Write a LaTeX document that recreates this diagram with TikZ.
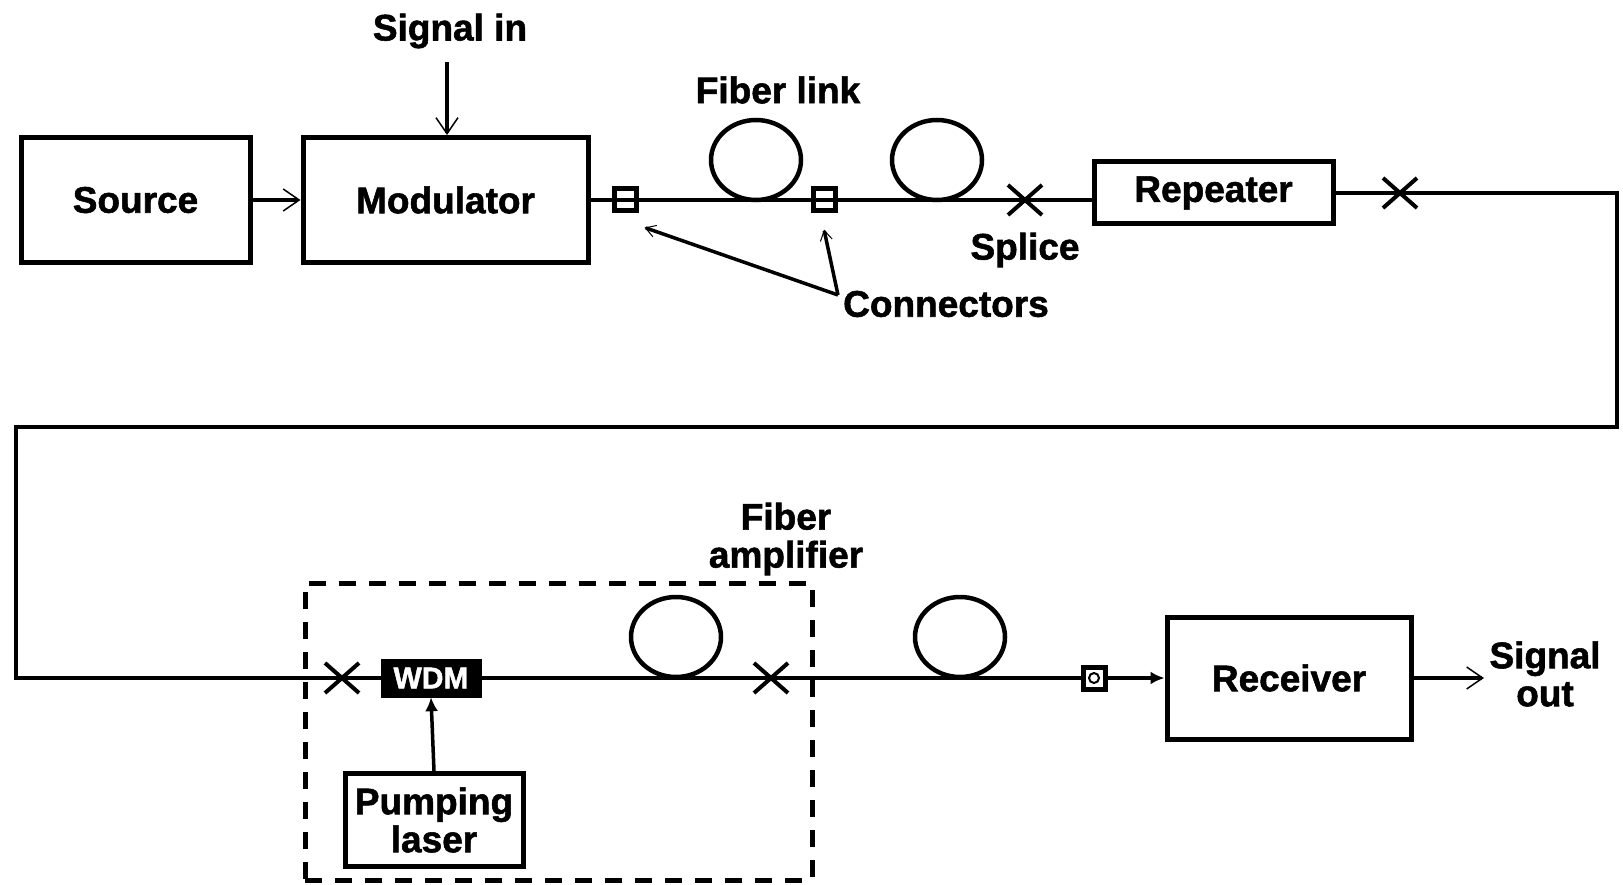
\documentclass[tikz,border=0pt]{standalone}
\usepackage{fontspec}
\setmainfont{Liberation Sans}[BoldFeatures={FakeBold=1.5}]
\usetikzlibrary{arrows.meta,shapes.misc}

\begin{document}
\begin{tikzpicture}[x=1pt,y=-1pt,>=Stealth,
    box/.style={draw,line width=5pt,inner sep=0pt},
    fiber/.style={line width=4.5pt},
    conbox/.style={draw,line width=5pt,minimum size=22pt,inner sep=0pt},
    splice/.style={draw,cross out,line width=4pt,minimum width=30pt,minimum height=26pt,inner sep=0pt},
    txt/.style={font=\fontsize{37}{38}\selectfont\bfseries,align=center,inner sep=0pt},
    openarr/.style={-{Straight Barb[length=16pt,width=22pt,line width=1.5pt]}},
    fillarr/.style={-{Latex[length=14pt,width=13pt]}}]
    \useasboundingbox (0,0) rectangle (1623,885);
    % top row
    \node[box,txt,minimum width=229pt,minimum height=125pt] (source) at (135.5,200) {Source};
    \node[box,txt,minimum width=285pt,minimum height=125pt] (modulator) at (445.5,200) {Modulator};
    \node[txt] (sigin) at (450,31) {Signal in};
    \node[conbox] (conA) at (625,200) {};
    \node[conbox] (conB) at (824,200) {};
    \node[splice] (sp1) at (1025,200) {};
    \node[box,txt,minimum width=239pt,minimum height=62pt] (repeater) at (1213.5,193) {Repeater};
    \node[splice] (sp2) at (1400,193) {};
    \node[txt] (fibrelink) at (778,90) {Fiber link};
    \node[txt] (splicelab) at (1025,250) {Splice};
    \node[txt,anchor=west] (conlab) at (843,304) {Connectors};
    \coordinate (cj) at (838,295);
    \draw[fiber,openarr] (447,62) -- (modulator.north -| 447,0);
    \draw[fiber,openarr] (source) -- (modulator);
    \draw[fiber] (modulator.east) -- (conA.center) -- (conB.center) -- (sp1.center) -- (sp1 -| repeater.west);
    \draw[fiber] (756,160) ellipse [x radius=45pt,y radius=40pt];
    \draw[fiber] (937,160) ellipse [x radius=45pt,y radius=40pt];
    \draw[line width=3.5pt,-{Straight Barb[length=10pt,width=12pt,line width=1pt]}] (cj) -- ([shift={(6pt,-14pt)}]conA.south east);
    \draw[line width=3.5pt,-{Straight Barb[length=10pt,width=12pt,line width=1pt]}] (cj) -- ([yshift=-16pt]conB.south);
    % return path
    \coordinate (ne) at (1617,193);
    \coordinate (se) at (1617,427);
    \coordinate (sw) at (16,427);
    \coordinate (w) at (16,678);
    % bottom row
    \node[draw,line width=5pt,dash pattern=on 17pt off 13pt,minimum width=507pt,minimum height=297pt] (amp) at (558.5,731.5) {};
    \node[txt] (amplab) at (786,539) {Fiber\\amplifier};
    \node[splice] (sp3) at (342,678) {};
    \node[draw,fill=black,text=white,font=\fontsize{30}{30}\selectfont\bfseries,minimum width=100pt,minimum height=38pt,inner sep=0pt] (wdm) at (431,678) {WDM};
    \node[box,txt,minimum width=178pt,minimum height=93pt] (pump) at (434,820) {Pumping\\laser};
    \node[splice] (sp4) at (771,678) {};
    \node[conbox] (conC) at (1094,678) {};
    \draw[line width=2pt] (conC) circle [radius=5pt];
    \node[box,txt,minimum width=244pt,minimum height=122pt] (receiver) at (1289,678) {Receiver};
    \node[txt] (sigout) at (1545,674) {Signal\\out};
    \coordinate (outend) at (1484,678);
    \draw[fiber] (repeater.east |- ne) -- (sp2.center) -- (ne) -- (se) -- (sw) -- (w) -- (sp3.center) -- (wdm.west);
    \draw[fiber] (wdm.east) -- (sp4.center) -- (conC.west);
    \draw[fiber] (676,637) ellipse [x radius=45pt,y radius=40pt];
    \draw[fiber] (960,637) ellipse [x radius=45pt,y radius=40pt];
    \draw[line width=3.5pt,fillarr] (pump.north) -- (wdm.south);
    \draw[fiber,fillarr] (conC.east) -- (receiver.west);
    \draw[fiber,openarr] (receiver.east) -- (outend);
\end{tikzpicture}
\end{document}
